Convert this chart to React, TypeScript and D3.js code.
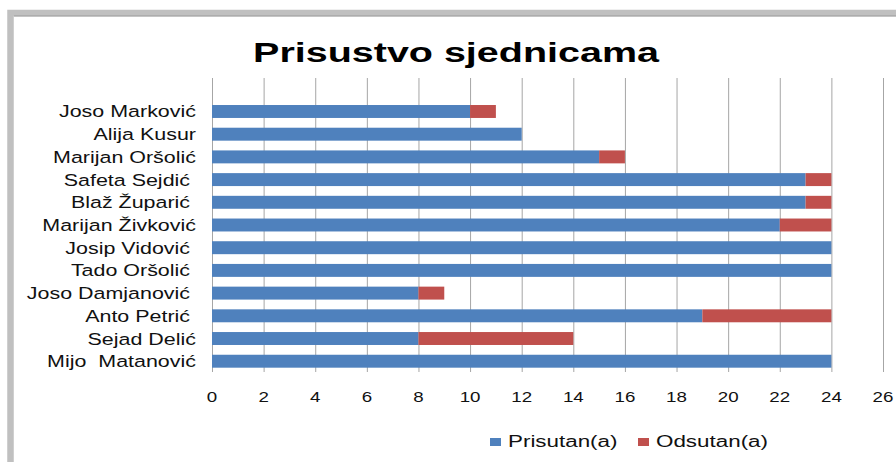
import React, { useRef, useEffect } from 'react';
import * as d3 from 'd3';

// data
const names = [
  'Joso Marković',
  'Alija Kusur',
  'Marijan Oršolić',
  'Safeta Sejdić ',
  'Blaž Župarić ',
  'Marijan Živković',
  'Josip Vidović ',
  'Tado Oršolić ',
  'Joso Damjanović ',
  'Anto Petrić ',
  'Sejad Delić',
  'Mijo  Matanović',
];
const present = [10, 12, 15, 23, 23, 22, 24, 24, 8, 19, 8, 24];
const absent = [1, 0, 1, 1, 1, 2, 0, 0, 1, 5, 6, 0];
const seriesNames = ['Prisutan(a)', 'Odsutan(a)'];
const xTicks = [0, 2, 4, 6, 8, 10, 12, 14, 16, 18, 20, 22, 24, 26];

const colors = ['#4F81BD', '#C0504D'];
const font = "'Liberation Sans', Arial, sans-serif";

const App: React.FC = () => {
  const svgRef = useRef<SVGSVGElement | null>(null);
  const W = 896;
  const H = 462;

  useEffect(() => {
    if (!svgRef.current) return;
    const svg = d3.select(svgRef.current);
    svg.selectAll('*').remove();

    // outer frame
    svg.append('rect')
      .attr('x', 10.5).attr('y', 13)
      .attr('width', W + 20).attr('height', H + 20)
      .attr('fill', '#fff')
      .attr('stroke', '#c0c0c0')
      .attr('stroke-width', 6.5);
    svg.append('line')
      .attr('x1', 14).attr('x2', W).attr('y1', 16).attr('y2', 16)
      .attr('stroke', '#9a9a9a');

    const left = 212, right = 883, top = 78, bottom = 372;

    const x = d3.scaleLinear().domain([0, 26]).range([left, right]);
    const y = d3.scaleBand<string>()
      .domain(['', ...names])
      .range([top, bottom])
      .paddingInner(0.43)
      .paddingOuter(0.19);

    // gridlines
    svg.append('g')
      .selectAll('line')
      .data(xTicks)
      .enter().append('line')
      .attr('x1', d => x(d) + 0.5).attr('x2', d => x(d) + 0.5)
      .attr('y1', top).attr('y2', bottom)
      .attr('stroke', '#a6a6a6')
      .attr('stroke-width', 1);

    // tick labels
    svg.append('g')
      .selectAll('text')
      .data(xTicks)
      .enter().append('text')
      .attr('transform', d => `translate(${x(d)},402) scale(1.25,1)`)
      .attr('text-anchor', 'middle')
      .attr('font-family', font)
      .attr('font-size', 15)
      .attr('fill', '#111')
      .text(d => String(d));

    // stacked bars
    const rows = names.map((n, i) => ({ name: n, p: present[i], a: absent[i] }));
    const bars = svg.append('g');
    bars.selectAll('.bar-p')
      .data(rows)
      .enter().append('rect')
      .attr('x', x(0))
      .attr('y', d => y(d.name)!)
      .attr('width', d => x(d.p) - x(0))
      .attr('height', y.bandwidth())
      .attr('fill', colors[0]);
    bars.selectAll('.bar-a')
      .data(rows.filter(d => d.a > 0))
      .enter().append('rect')
      .attr('x', d => x(d.p))
      .attr('y', d => y(d.name)!)
      .attr('width', d => x(d.p + d.a) - x(d.p))
      .attr('height', y.bandwidth())
      .attr('fill', colors[1]);

    // category labels
    svg.append('g')
      .selectAll('text')
      .data(names)
      .enter().append('text')
      .attr('transform', d => `translate(196,${y(d)! + y.bandwidth() / 2 + 6}) scale(1.3,1)`)
      .attr('text-anchor', 'end')
      .attr('font-family', font)
      .attr('font-size', 16.5)
      .attr('fill', '#111')
      .style('white-space', 'pre')
      .text(d => d);

    // title
    svg.append('text')
      .attr('transform', 'translate(456,62) scale(1.41,1)')
      .attr('text-anchor', 'middle')
      .attr('font-family', font)
      .attr('font-weight', 'bold')
      .attr('font-size', 28)
      .attr('fill', '#000')
      .text('Prisustvo sjednicama');

    // legend
    const legendX = [490, 638];
    const legend = svg.append('g');
    seriesNames.forEach((s, i) => {
      legend.append('rect')
        .attr('x', legendX[i]).attr('y', 438)
        .attr('width', 11).attr('height', 8)
        .attr('fill', colors[i]);
      legend.append('text')
        .attr('transform', `translate(${legendX[i] + 18},447) scale(1.4,1)`)
        .attr('font-family', font)
        .attr('font-size', 16)
        .attr('fill', '#111')
        .text(s);
    });
  }, []);

  return (
    <svg
      ref={svgRef}
      width={W}
      height={H}
      style={{ position: 'absolute', left: 0, top: 0, background: '#fff' }}
    />
  );
};

export default App;
